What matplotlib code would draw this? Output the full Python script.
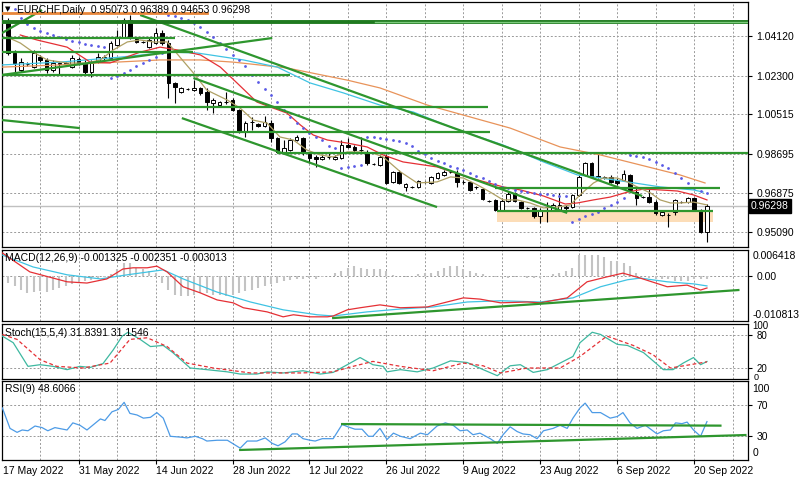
import numpy as np
import matplotlib.pyplot as plt
import matplotlib.transforms as mtransforms
from matplotlib.patches import Rectangle

plt.rcParams['font.family'] = ['Liberation Sans', 'DejaVu Sans']
plt.rcParams['font.size'] = 7.5

# daily bars, index 0 = 18 May 2022 (Sunday bars included, 6 per week)
opens = [
    1.0477, 1.0334, 1.0256, 1.0283, 1.0269, 1.0315, 1.0302, 1.0256, 1.0283, 1.0288,
    1.0269, 1.0306, 1.0288, 1.0246, 1.0292, 1.0315, 1.0311, 1.0371, 1.0408, 1.0486,
    1.0398, 1.0385, 1.0361, 1.0380, 1.0426, 1.0380, 1.0196, 1.0154, 1.0168, 1.0163,
    1.0173, 1.0154, 1.0103, 1.0094, 1.0109, 1.0117, 1.0071, 0.9970, 1.0016, 1.0007,
    0.9998, 1.0011, 0.9942, 0.9873, 0.9887, 0.9933, 0.9942, 0.9868, 0.9855, 0.9845,
    0.9855, 0.9845, 0.9850, 0.9910, 0.9901, 0.9887, 0.9878, 0.9822, 0.9818, 0.9859,
    0.9740, 0.9786, 0.9717, 0.9717, 0.9717, 0.9740, 0.9735, 0.9758, 0.9772, 0.9786,
    0.9781, 0.9740, 0.9740, 0.9717, 0.9707, 0.9652, 0.9657, 0.9611, 0.9652, 0.9689,
    0.9647, 0.9620, 0.9620, 0.9583, 0.9624, 0.9611, 0.9611, 0.9624, 0.9624, 0.9680,
    0.9772, 0.9827, 0.9767, 0.9763, 0.9763, 0.9749, 0.9749, 0.9772, 0.9693, 0.9670,
    0.9670, 0.9647, 0.9588, 0.9588, 0.9601, 0.9647, 0.9647, 0.9666, 0.9611, 0.95073,
]
highs = [
    1.0495, 1.0348, 1.0311, 1.0292, 1.0348, 1.0325, 1.0311, 1.0302, 1.0292, 1.0292,
    1.0325, 1.0315, 1.0302, 1.0302, 1.0334, 1.0325, 1.0389, 1.0440, 1.0495, 1.0509,
    1.0408, 1.0389, 1.0403, 1.0449, 1.0440, 1.0394, 1.0200, 1.0177, 1.0173, 1.0209,
    1.0177, 1.0173, 1.0127, 1.0113, 1.0154, 1.0127, 1.0076, 1.0021, 1.0039, 1.0011,
    1.0044, 1.0025, 0.9947, 0.9933, 0.9942, 0.9956, 0.9947, 0.9878, 0.9864, 0.9864,
    0.9873, 0.9864, 0.9933, 0.9942, 0.9910, 0.9947, 0.9887, 0.9827, 0.9864, 0.9868,
    0.9790, 0.9795, 0.9735, 0.9721, 0.9749, 0.9744, 0.9767, 0.9786, 0.9795, 0.9790,
    0.9795, 0.9749, 0.9744, 0.9721, 0.9712, 0.9657, 0.9661, 0.9666, 0.9693, 0.9693,
    0.9652, 0.9624, 0.9624, 0.9620, 0.9647, 0.9643, 0.9689, 0.9634, 0.9684, 0.9772,
    0.9832, 0.9832, 0.9878, 0.9767, 0.9772, 0.9758, 0.9795, 0.9776, 0.9717, 0.9675,
    0.9712, 0.9657, 0.9606, 0.9597, 0.9661, 0.9652, 0.9670, 0.9670, 0.9615, 0.96389,
]
lows = [
    1.0325, 1.0242, 1.0246, 1.0274, 1.0265, 1.0292, 1.0242, 1.0246, 1.0233, 1.0274,
    1.0265, 1.0279, 1.0233, 1.0223, 1.0288, 1.0302, 1.0306, 1.0366, 1.0403, 1.0398,
    1.0380, 1.0380, 1.0357, 1.0375, 1.0371, 1.0127, 1.0103, 1.0150, 1.0163, 1.0159,
    1.0140, 1.0071, 1.0057, 1.0090, 1.0099, 1.0067, 0.9965, 0.9947, 0.9979, 0.9993,
    0.9993, 0.9924, 0.9873, 0.9868, 0.9882, 0.9928, 0.9864, 0.9827, 0.9809, 0.9841,
    0.9845, 0.9841, 0.9845, 0.9896, 0.9878, 0.9878, 0.9818, 0.9818, 0.9813, 0.9730,
    0.9735, 0.9730, 0.9698, 0.9712, 0.9712, 0.9735, 0.9730, 0.9753, 0.9767, 0.9781,
    0.9717, 0.9730, 0.9698, 0.9707, 0.9657, 0.9647, 0.9606, 0.9606, 0.9647, 0.9647,
    0.9615, 0.9615, 0.9574, 0.9551, 0.9555, 0.9606, 0.9606, 0.9611, 0.9620, 0.9675,
    0.9767, 0.9758, 0.9758, 0.9753, 0.9735, 0.9726, 0.9744, 0.9693, 0.9634, 0.9666,
    0.9643, 0.9588, 0.9583, 0.9532, 0.9588, 0.9643, 0.9643, 0.9606, 0.9505, 0.94653,
]
closes = [
    1.0334, 1.0288, 1.0292, 1.0283, 1.0334, 1.0302, 1.0256, 1.0288, 1.0288, 1.0283,
    1.0311, 1.0288, 1.0246, 1.0288, 1.0315, 1.0311, 1.0380, 1.0408, 1.0486, 1.0408,
    1.0385, 1.0385, 1.0394, 1.0426, 1.0380, 1.0196, 1.0177, 1.0173, 1.0168, 1.0173,
    1.0150, 1.0108, 1.0117, 1.0108, 1.0108, 1.0071, 0.9970, 1.0011, 1.0016, 0.9998,
    1.0016, 0.9942, 0.9878, 0.9896, 0.9933, 0.9947, 0.9873, 0.9850, 0.9845, 0.9855,
    0.9855, 0.9855, 0.9910, 0.9901, 0.9887, 0.9887, 0.9827, 0.9822, 0.9855, 0.9735,
    0.9786, 0.9735, 0.9730, 0.9717, 0.9744, 0.9740, 0.9763, 0.9781, 0.9786, 0.9786,
    0.9740, 0.9740, 0.9703, 0.9717, 0.9661, 0.9652, 0.9611, 0.9652, 0.9684, 0.9652,
    0.9620, 0.9620, 0.9583, 0.9606, 0.9624, 0.9634, 0.9634, 0.9620, 0.9680, 0.9763,
    0.9827, 0.9763, 0.9763, 0.9758, 0.9740, 0.9735, 0.9776, 0.9703, 0.9666, 0.9670,
    0.9647, 0.9597, 0.9601, 0.9588, 0.9657, 0.9647, 0.9666, 0.9611, 0.9509, 0.96298,
]

# moving averages (bar index, price)
tan_x = [-0.2, 1.9, 3.9, 6.1, 9.2, 12.3, 14.4, 16.4, 18.6, 20.6, 22.6, 24.8, 26.8, 28.9,
         31.0, 34.2, 36.2, 38.2, 40.4, 42.4, 44.5, 46.6, 48.7, 50.7, 52.9, 54.9, 56.9,
         58.5, 61.2, 63.8, 66.9, 69.0, 71.0, 73.2, 75.2, 77.2, 79.4, 81.4, 83.5, 85.6,
         87.7, 89.2, 91.3, 92.8, 95.0, 96.6, 98.1, 100.2, 101.7, 103.3, 104.8, 106.9, 109.0]
tan_y = [1.0408, 1.0380, 1.0338, 1.0302, 1.0288, 1.0288, 1.0302, 1.0348, 1.0385, 1.0394,
         1.0385, 1.0385, 1.0315, 1.0242, 1.0163, 1.0117, 1.0080, 1.0025, 1.0011, 0.9947,
         0.9933, 0.9887, 0.9864, 0.9855, 0.9878, 0.9878, 0.9873, 0.9855, 0.9786, 0.9735,
         0.9740, 0.9763, 0.9758, 0.9726, 0.9693, 0.9657, 0.9657, 0.9643, 0.9620, 0.9624,
         0.9634, 0.9680, 0.9735, 0.9758, 0.9758, 0.9740, 0.9717, 0.9689, 0.9657, 0.9643,
         0.9643, 0.9647, 0.9634]
red_x = [1.9, 4.5, 9.2, 12.8, 15.9, 20.6, 23.7, 26.4, 30.0, 33.1, 35.7, 38.8, 40.9, 43.5,
         45.6, 47.6, 49.8, 52.9, 56.0, 58.5, 61.6, 66.9, 72.1, 77.2, 79.9, 83.5, 86.9,
         88.8, 91.3, 93.9, 96.6, 99.1, 101.7, 104.4, 106.9, 109.0]
red_y = [1.0417, 1.0394, 1.0361, 1.0292, 1.0288, 1.0338, 1.0361, 1.0348, 1.0325, 1.0269,
         1.0196, 1.0108, 1.0085, 1.0057, 1.0002, 0.9956, 0.9933, 0.9919, 0.9901, 0.9864,
         0.9832, 0.9809, 0.9758, 0.9717, 0.9703, 0.9675, 0.9638, 0.9643, 0.9657, 0.9670,
         0.9693, 0.9707, 0.9703, 0.9698, 0.9680, 0.9657]
cyan_x = [-0.95, 8.1, 17.5, 25.3, 29.5, 36.7, 42.0, 47.1, 52.3, 58.0, 63.2, 69.4, 77.2,
          83.5, 88.8, 91.3, 96.6, 101.7, 106.9, 108.4]
cyan_y = [1.0279, 1.0292, 1.0315, 1.0338, 1.0334, 1.0302, 1.0269, 1.0196, 1.0150, 1.0094,
          1.0062, 0.9988, 0.9910, 0.9832, 0.9772, 0.9763, 0.9740, 0.9717, 0.9703, 0.9693]
orange_x = [-0.95, 8.1, 23.7, 30.0, 35.1, 43.5, 52.9, 58.0, 65.4, 71.0, 78.3, 86.1, 92.4,
            98.6, 104.8, 108.7]
orange_y = [1.0269, 1.0279, 1.0302, 1.0302, 1.0292, 1.0265, 1.0209, 1.0173, 1.0094, 1.0048,
            0.9988, 0.9901, 0.9864, 0.9818, 0.9772, 0.9735]

# parabolic SAR, one dot per bar
sar = [
    1.0541, 1.0537, 1.0495, 1.0467, 1.0449, 1.0435, 1.0426, 1.0417, 1.0408, 1.0398,
    1.0389, 1.0385, 1.0375, 1.0371, 1.0366, 1.0361, 1.0219, 1.0228, 1.0242, 1.0256,
    1.0274, 1.0288, 1.0302, 1.0315, 1.0334, 1.0509, 1.0504, 1.0495, 1.0486, 1.0472,
    1.0454, 1.0431, 1.0408, 1.0380, 1.0352, 1.0325, 1.0302, 1.0274, 1.0233, 1.0200,
    1.0168, 1.0140, 1.0108, 1.0071, 1.0039, 1.0011, 0.9988, 0.9965, 0.9947, 0.9933,
    0.9905, 0.9896, 0.9804, 0.9809, 0.9813, 0.9818, 0.9947, 0.9947, 0.9942, 0.9938,
    0.9933, 0.9928, 0.9919, 0.9905, 0.9882, 0.9868, 0.9850, 0.9836, 0.9827, 0.9813,
    0.9804, 0.9795, 0.9781, 0.9767, 0.9758, 0.9744, 0.9730, 0.9717, 0.9712, 0.9703,
    0.9698, 0.9693, 0.9689, 0.9684, 0.9684, 0.9680, 0.9675, 0.9675, 0.9555, 0.9569,
    0.9583, 0.9592, 0.9601, 0.9620, 0.9634, 0.9647, 0.9666, 0.9864, 0.9859, 0.9855,
    0.9845, 0.9832, 0.9818, 0.9804, 0.9781, 0.9758, 0.9735, 0.9712, 0.9698, 0.9689,
]

# drawn objects: horizontal levels (price, from bar, to bar) and trend lines
h_levels = [(1.0404, -0.95, 26.0), (1.0338, -0.95, 28.9), (1.0233, -0.95, 44.0),
            (1.0087, -0.95, 74.9), (0.9971, -0.95, 75.2), (0.9871, 42.0, 115.4),
            (0.9712, 76.0, 111.1), (0.9606, 76.3, 110.0)]
trend_lines = [((-0.95, 5.3), (1.0426, 1.0532)), ((-0.95, 41.2), (1.0233, 1.0403)),
               ((20.6, 98.9), (1.0509, 0.9675)), ((28.9, 87.2), (1.0219, 0.9597)),
               ((27.1, 66.9), (1.0034, 0.9624)), ((-0.95, 11.2), (1.0025, 0.9988))]
top_level = 1.0479
orange_level = (1.0518, -0.95, 31.0)
zone = (76.3, 110.0, 0.9555, 0.9606)
last_price = 0.96298

price_ticks = [1.04120, 1.02300, 1.00515, 0.98695, 0.96875, 0.95090]
price_labels = ['1.04120', '1.02300', '1.00515', '0.98695', '0.96875', '0.95090']

# MACD(12,26,9)
macd_hist = [
    -0.0016, -0.0024, -0.0032, -0.0039, -0.0038, -0.0036, -0.0038, -0.0032, -0.0027, -0.0024,
    -0.0019, -0.0016, -0.0011, -0.0009, -0.0005, -0.0001, 0.0005, 0.0017, 0.0033, 0.0032,
    0.0021, 0.0017, 0.0013, 0.0009, -0.0016, -0.0032, -0.0044, -0.0048, -0.0048, -0.0044,
    -0.0040, -0.0040, -0.0044, -0.0046, -0.0048, -0.0044, -0.0040, -0.0036, -0.0032, -0.0027,
    -0.0024, -0.0019, -0.0016, -0.0011, -0.0009, -0.0007, -0.0005, -0.0004, -0.0007, -0.0001,
    0.0001, 0.0009, 0.0013, 0.0021, 0.0025, 0.0021, 0.0017, 0.0017, 0.0017, 0.0013,
    0.0004, 0.0000, -0.0002, 0.0002, 0.0005, 0.0009, 0.0009, 0.0013, 0.0021, 0.0025,
    0.0025, 0.0017, 0.0013, 0.0009, 0.0005, 0.0001, -0.0001, -0.0002, -0.0003, -0.0002,
    -0.0002, -0.0003, -0.0004, -0.0003, -0.0001, 0.0005, 0.0009, 0.0013, 0.0021, 0.0053,
    0.0053, 0.0053, 0.0053, 0.0046, 0.0038, 0.0038, 0.0033, 0.0025, 0.0009, 0.0001,
    -0.0004, -0.0005, -0.0007, -0.0007, -0.0011, -0.0011, -0.0011, -0.0007, -0.0005, -0.0005,
]
macd_x = [-0.9, 3.4, 9.2, 12.3, 15.4, 17.9, 19.5, 21.7, 23.2, 24.8, 27.3, 30.0, 32.6, 35.1,
          36.7, 40.4, 42.9, 44.5, 47.1, 49.8, 50.7, 52.9, 54.9, 58.0, 61.2, 65.4, 71.0,
          73.6, 76.8, 81.0, 83.0, 87.2, 90.3, 93.4, 95.9, 98.6, 102.8, 105.9, 108.0, 109.0]
macd_y = [0.0057, 0.0011, -0.0013, -0.0016, -0.0006, 0.0018, 0.0021, 0.0021, 0.0025, 0.0011,
          -0.0025, -0.0040, -0.0057, -0.0064, -0.0076, -0.0086, -0.0098, -0.0093, -0.0098,
          -0.0098, -0.0096, -0.0081, -0.0076, -0.0069, -0.0076, -0.0074, -0.0052, -0.0055,
          -0.0064, -0.0062, -0.0064, -0.0052, -0.0013, -0.0001, 0.0008, -0.0004, -0.0025,
          -0.0021, -0.0033, -0.0028]
sig_x = [-0.9, 3.9, 9.2, 14.4, 18.6, 24.2, 27.3, 32.6, 37.8, 42.9, 48.2, 50.7, 56.0, 61.2,
         66.3, 71.6, 76.8, 83.0, 88.1, 92.4, 96.6, 98.6, 102.8, 106.9, 109.0]
sig_y = [0.0052, 0.0023, 0.0004, -0.0006, 0.0004, 0.0016, -0.0006, -0.0038, -0.0062, -0.0081,
         -0.0093, -0.0096, -0.0086, -0.0079, -0.0074, -0.0062, -0.0059, -0.0062, -0.0052,
         -0.0025, -0.0008, -0.0004, -0.0013, -0.0018, -0.0023]
macd_trend = ((50.7, 113.9), (-0.0101, -0.0033))
macd_range = (-0.010813, 0.006418)

# Stochastic(15,5,4)
st_x = [-0.9, 0.8, 3.1, 5.0, 7.0, 9.2, 11.2, 12.8, 14.8, 16.4, 17.8, 18.7, 20.6, 22.2, 24.2,
        25.7, 28.4, 31.0, 34.2, 36.2, 38.8, 40.4, 42.9, 46.0, 48.7, 50.7, 52.9, 54.9, 56.9,
        58.5, 59.1, 61.2, 63.8, 66.3, 69.0, 71.6, 74.1, 76.3, 78.3, 79.9, 81.9, 84.1, 86.1,
        88.1, 89.2, 91.1, 92.4, 95.0, 96.6, 99.1, 102.2, 103.7, 105.3, 106.9, 108.0, 109.0]
st_main = [78, 66, 23, 26, 23, 17, 23, 21, 28, 53, 78, 85, 72, 59, 61, 48, 20, 17, 13, 9,
           9, 13, 11, 15, 9, 12, 26, 39, 26, 23, 13, 17, 13, 20, 33, 30, 17, 6, 24, 26,
           12, 17, 29, 41, 66, 85, 81, 63, 61, 48, 17, 17, 29, 39, 26, 31.8]
st_sig_x = [-0.9, 1.4, 5.0, 7.6, 11.7, 15.9, 19.0, 21.7, 24.8, 27.9, 32.0, 37.8, 45.6, 50.7,
            53.8, 56.9, 61.2, 66.3, 71.0, 74.1, 76.8, 81.0, 86.1, 89.2, 93.4, 97.5, 100.6,
            103.3, 106.4, 109.0]
st_sig = [81, 72, 35, 23, 20, 29, 72, 75, 59, 29, 20, 11, 11, 13, 23, 32, 23, 15, 29, 24,
          11, 20, 20, 41, 78, 61, 44, 20, 26, 31.2]

# RSI(9)
rsi_x = [-0.9, 0.3, 1.4, 2.2, 3.1, 4.2, 5.3, 6.2, 7.3, 9.2, 10.1, 11.2, 12.3, 14.4, 15.1,
         16.2, 17.2, 18.1, 19.0, 20.1, 21.1, 22.2, 23.2, 24.2, 25.3, 26.8, 27.9, 29.2, 30.3,
         31.0, 32.6, 34.2, 36.2, 37.3, 38.8, 40.1, 41.2, 42.1, 43.2, 44.3, 45.1, 46.0, 47.1,
         47.9, 49.0, 50.7, 52.1, 53.0, 54.1, 55.2, 56.2, 56.9, 58.0, 59.1, 60.1, 61.2, 62.7,
         64.3, 65.4, 66.9, 68.2, 69.4, 70.5, 71.6, 72.5, 73.6, 75.2, 76.3, 77.2, 78.3, 79.4,
         80.3, 81.4, 82.5, 83.5, 85.0, 86.1, 87.2, 88.1, 89.2, 90.0, 91.1, 92.4, 93.9, 95.0,
         95.9, 97.0, 98.1, 99.4, 101.2, 102.2, 103.3, 104.1, 105.1, 105.9, 106.9, 108.0, 109.0]
rsi_y = [66, 40, 35, 38, 37, 43, 41, 37, 41, 38, 47, 44, 38, 52, 50, 61, 64, 73, 59, 57,
         53, 54, 60, 53, 30, 29, 28, 30, 27, 24, 25, 25, 15, 24, 24, 28, 21, 18, 23, 33,
         33, 27, 25, 24, 27, 27, 45, 42, 39, 39, 30, 30, 40, 26, 34, 30, 27, 34, 32, 43,
         47, 44, 37, 38, 32, 34, 27, 21, 32, 42, 36, 33, 32, 27, 37, 40, 44, 40, 53, 66,
         72, 60, 60, 53, 55, 60, 47, 40, 44, 33, 37, 38, 47, 46, 48, 38, 30, 48.6]
rsi_trends = [((52.1, 111.1), (45.5, 43.5)), ((36.2, 115.0), (12.7, 31.6))]

date_pos = [-1, 11, 23, 35, 47, 59, 71, 83, 95, 107]
date_labels = ['17 May 2022', '31 May 2022', '14 Jun 2022', '28 Jun 2022', '12 Jul 2022',
               '26 Jul 2022', '9 Aug 2022', '23 Aug 2022', '6 Sep 2022', '20 Sep 2022']

GREEN = '#2E962E'
GRID = dict(color='#9A9A9A', lw=0.7, ls=(0, (2, 2)), zorder=0.5)
W, H = 800, 480
XLIM = (-0.95, 115.4)

fig = plt.figure(figsize=(8, 4.8), dpi=100)


def panel(top, bottom):
    a = fig.add_axes([2 / W, 1 - bottom / H, 746 / W, (bottom - top) / H])
    a.set_xlim(*XLIM)
    a.yaxis.tick_right()
    a.tick_params(axis='y', direction='out', length=3, width=0.8, pad=3, labelsize=7.5)
    a.tick_params(axis='x', direction='out', length=3, width=0.8)
    a.set_xticks([])
    for s in a.spines.values():
        s.set_linewidth(0.9)
    for g in range(5, 116, 6):
        a.axvline(g, **GRID)
    return a


def edge_labels(a, top_txt, bottom_txt, top_y=0.98, bottom_y=0.02, size=7.5):
    tr = a.transAxes
    a.text(1.006, top_y, top_txt, transform=tr, va='top', ha='left', fontsize=size,
           clip_on=False, zorder=20)
    if bottom_txt:
        a.text(1.006, bottom_y, bottom_txt, transform=tr, va='bottom', ha='left',
               fontsize=size, clip_on=False, zorder=20)


# main price window
ax = panel(2, 247)
ax.set_ylim(0.9440, 1.0569)
ax.set_yticks(price_ticks)
ax.set_yticklabels(price_labels)
for p in price_ticks:
    ax.axhline(p, **GRID)

bars = np.arange(len(closes))
ax.add_patch(Rectangle((zone[0], zone[2]), zone[1] - zone[0], zone[3] - zone[2],
                       facecolor='#FCDDB8', edgecolor='none', zorder=1))
ax.axhline(last_price, color='#C0C0C0', lw=1.0, zorder=1.5)

ax.vlines(bars, lows, highs, color='black', lw=0.8, zorder=3)
bw = 0.56
for i in bars:
    o, c = opens[i], closes[i]
    bull = c >= o
    ax.add_patch(Rectangle((i - bw / 2, min(o, c)), bw, max(abs(c - o), 0.00005),
                           facecolor='white' if bull else 'black', edgecolor='black',
                           lw=0.7, zorder=4))

ax.plot(orange_x, orange_y, color='#E8935A', lw=0.9, zorder=5)
ax.plot(cyan_x, cyan_y, color='#3FC3E3', lw=0.9, zorder=5)
ax.plot(red_x, red_y, color='#E53035', lw=0.9, zorder=5)
ax.plot(tan_x, tan_y, color='#AFA064', lw=0.9, zorder=5)
ax.plot(bars, sar, ls='none', marker='o', ms=2.0, mew=0, color='#5A5AE6', zorder=5)

for p, x0, x1 in h_levels:
    ax.plot([x0, x1], [p, p], color=GREEN, lw=1.6, zorder=6, solid_capstyle='butt')
for xs, ys in trend_lines:
    ax.plot(xs, ys, color=GREEN, lw=1.6, zorder=6, solid_capstyle='butt')
ax.plot(XLIM, [top_level, top_level], color='#1F7A1F', lw=2.8, zorder=6)
ax.plot([57.3, XLIM[1]], [top_level, top_level], color='#7CCB7C', lw=1.0, zorder=6.1)
ax.plot(orange_level[1:], [orange_level[0]] * 2, color='#E8863A', lw=2.0, zorder=6)

tag = mtransforms.blended_transform_factory(ax.transAxes, ax.transData)
ax.text(1.004, last_price, '0.96298', transform=tag, va='center', ha='left', color='white',
        fontsize=7.5, zorder=10,
        bbox=dict(boxstyle='square,pad=0.22', facecolor='black', edgecolor='black'))

fig.text(17 / W, 1 - 10 / H, 'EURCHF,Daily  0.95073 0.96389 0.94653 0.96298',
         va='center', ha='left', fontsize=7.5, zorder=20)
fig.text(8 / W, 1 - 9 / H, '\u25bc', va='center', ha='center', fontsize=5, family='DejaVu Sans')

# MACD window
am = panel(250, 321)
am.set_ylim(*macd_range)
am.set_yticks([0])
am.set_yticklabels(['0.00'])
am.axhline(0, **GRID)
am.vlines(bars, 0, macd_hist, color='#C3C3C3', lw=1.5, zorder=2)
am.plot(sig_x, sig_y, color='#3FC3E3', lw=0.9, zorder=4)
am.plot(macd_x, macd_y, color='#E53035', lw=0.9, zorder=4)
am.plot(*macd_trend, color=GREEN, lw=1.6, zorder=5)
edge_labels(am, '0.006418', '-0.010813')
fig.text(5 / W, 1 - 258 / H, 'MACD(12,26,9) -0.001325 -0.002351 -0.003013',
         va='center', ha='left', fontsize=7.5)

# Stochastic window
ast = panel(324, 379)
ast.set_ylim(0, 100)
ast.set_yticks([80, 20])
ast.set_yticklabels(['80', '20'])
ast.tick_params(axis='y', labelsize=7)
for lv in (80, 20):
    ast.axhline(lv, **GRID)
ast.plot(st_x, st_main, color='#3DB8A0', lw=0.9, zorder=4)
ast.plot(st_sig_x, st_sig, color='#E53035', lw=0.9, ls=(0, (3, 2)), zorder=4)
edge_labels(ast, '100', None, top_y=1.06, size=7)
fig.text(754 / W, 1 - 377.5 / H, '0', va='center', ha='left', fontsize=6.5, zorder=30)
fig.text(5 / W, 1 - 333 / H, 'Stoch(15,5,4) 31.8391 31.1546', va='center', ha='left',
         fontsize=7.5)

# RSI window
ar = panel(381, 460)
ar.set_ylim(0, 100)
ar.set_yticks([70, 30])
ar.set_yticklabels(['70', '30'])
for lv in (70, 30):
    ar.axhline(lv, **GRID)
ar.plot(rsi_x, rsi_y, color='#4D9BE6', lw=0.9, zorder=4)
for xs, ys in rsi_trends:
    ar.plot(xs, ys, color=GREEN, lw=1.6, zorder=5)
edge_labels(ar, '100', '0', top_y=0.96)
fig.text(5 / W, 1 - 389 / H, 'RSI(9) 48.6066', va='center', ha='left', fontsize=7.5)

ar.set_xticks([p for p in date_pos if p > XLIM[0]])
ar.set_xticklabels([])
date_tr = mtransforms.blended_transform_factory(ar.transData, ar.transAxes)
for p, lab in zip(date_pos, date_labels):
    ar.text(max(p, XLIM[0] + 0.1), -0.07, lab, transform=date_tr, ha='left', va='top',
            fontsize=7.5, clip_on=False)
ar.set_xlim(*XLIM)

fig.savefig('out.png', dpi=100)
